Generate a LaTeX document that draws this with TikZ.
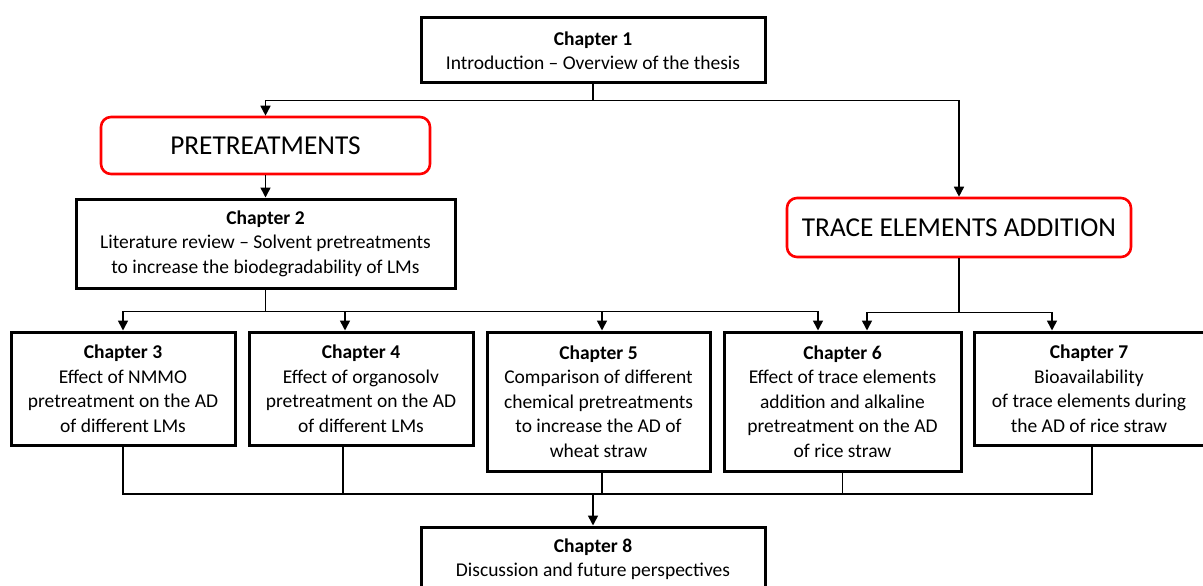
\documentclass[tikz,border=0pt]{standalone}
\usepackage{fontspec}
\setmainfont{Carlito}
\usetikzlibrary{arrows.meta}

\begin{document}
\begin{tikzpicture}[x=1pt,y=-1pt]
  \tikzset{ chap/.style={draw, line width=3pt, align=center, inner sep=0pt, font=\fontsize{19.5}{24.5}\selectfont},
            theme/.style={draw=red, line width=2.6pt, rounded corners=10pt, inner sep=0pt, font=\fontsize{27.3}{30}\selectfont},
            conn/.style={line width=1.6pt},
            arr/.style={conn, -{Triangle[length=10pt,width=10pt]}} };
  \useasboundingbox (0,0) rectangle (1203,586);
  % boxes
  \node[chap, minimum width=344pt, minimum height=65pt] (ch1) at (593,50.5) {\textbf{Chapter 1}\\Introduction – Overview of the thesis};
  \node[theme, minimum width=329pt, minimum height=57pt] (pre) at (265.5,145.5) {PRETREATMENTS};
  \node[theme, minimum width=344pt, minimum height=59pt] (trace) at (959,227.5) {TRACE ELEMENTS ADDITION};
  \node[chap, minimum width=379pt, minimum height=89pt] (ch2) at (265.5,243.5) {\textbf{Chapter 2}\\Literature review – Solvent pretreatments\\to increase the biodegradability of LMs};
  \node[chap, minimum width=224pt, minimum height=113pt] (ch3) at (123,388.5) {\textbf{Chapter 3}\\Effect of NMMO\\pretreatment on the AD\\of different LMs};
  \node[chap, minimum width=224pt, minimum height=113pt] (ch4) at (361,388.5) {\textbf{Chapter 4}\\Effect of organosolv\\pretreatment on the AD\\of different LMs};
  \node[chap, minimum width=223pt, minimum height=139pt] (ch5) at (598.5,401.5) {\textbf{Chapter 5}\\Comparison of different\\chemical pretreatments\\to increase the AD of\\wheat straw};
  \node[chap, minimum width=237pt, minimum height=139pt] (ch6) at (842.5,401.5) {\textbf{Chapter 6}\\Effect of trace elements\\addition and alkaline\\pretreatment on the AD\\of rice straw};
  \node[chap, minimum width=230pt, minimum height=113pt] (ch7) at (1089,388.5) {\textbf{Chapter 7}\\Bioavailability\\of trace elements during\\the AD of rice straw};
  \node[chap, minimum width=344pt, minimum height=64pt] (ch8) at (593,559) {\textbf{Chapter 8}\\Discussion and future perspectives};
  % top split
  \draw[conn] (ch1.south) -- ++(0,16) coordinate (s1);
  \draw[arr] (s1) -| (pre.north);
  \draw[arr] (s1) -| (trace.north);
  \draw[arr] (pre.south) -- (ch2.north);
  % pretreatment branch
  \draw[conn] (ch2.south) -- ++(0,22) coordinate (s2);
  \draw[arr] (s2) -| (ch3.north);
  \draw[arr] (s2) -| ([xshift=-16pt]ch4.north);
  \draw[arr] (s2) -| ([xshift=3.5pt]ch5.north);
  \draw[arr] (s2) -| ([xshift=-24.5pt]ch6.north);
  % trace elements branch
  \draw[conn] (trace.south) -- ++(0,54) coordinate (s3);
  \draw[arr] (s3) -| ([xshift=24.5pt]ch6.north);
  \draw[arr] (s3) -| ([xshift=-37pt]ch7.north);
  % join
  \coordinate (j) at (593,494);
  \draw[conn] (ch3.south) |- (j);
  \draw[conn] ([xshift=-18pt]ch4.south) |- (j);
  \draw[conn] ([xshift=3.5pt]ch5.south) |- (j);
  \draw[conn] (ch6.south) |- (j);
  \draw[conn] ([xshift=3pt]ch7.south) |- (j);
  \draw[arr] (j) -- (ch8.north);
\end{tikzpicture}
\end{document}
